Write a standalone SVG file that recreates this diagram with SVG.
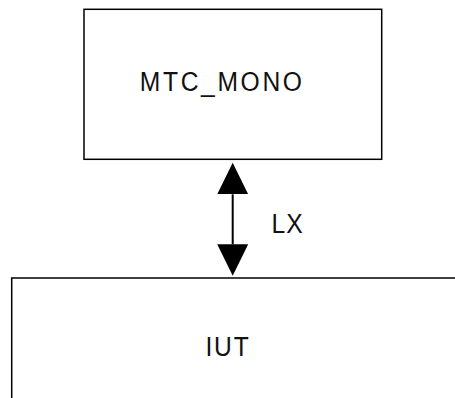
<svg xmlns="http://www.w3.org/2000/svg" width="455" height="398" viewBox="0 0 455 398">
  <style>
    .box { fill: #ffffff; stroke: #000000; stroke-width: 1.5; }
    .lbl { font-family: "Liberation Sans", Arial, sans-serif; font-size: 28px; fill: #111111; }
    .conn { stroke: #000000; stroke-width: 2; fill: none; }
  </style>
  <defs>
    <marker id="arrow" viewBox="0 -16 32 32" markerWidth="32" markerHeight="32" refX="0" refY="0" markerUnits="userSpaceOnUse" orient="auto-start-reverse">
      <path d="M0,-15.5 L31.5,0 L0,15.5 Z" fill="#000000"/>
    </marker>
  </defs>
  <rect width="455" height="398" fill="#ffffff"/>
  <g id="node-mtc">
    <rect class="box" x="84" y="9.3" width="297.7" height="150" stroke="#333333"/>
    <text class="lbl" transform="translate(139.85,91.3) scale(0.88,1)" letter-spacing="3">MTC_MONO</text>
  </g>
  <g id="node-iut">
    <rect class="box" x="11.7" y="278" width="470" height="150"/>
    <text class="lbl" transform="translate(205.4,355.7) scale(0.88,1)" letter-spacing="2.1">IUT</text>
  </g>
  <g id="connectors">
    <line class="conn" x1="232.7" y1="194.3" x2="232.7" y2="244.3" marker-start="url(#arrow)" marker-end="url(#arrow)"/>
    <text class="lbl" transform="translate(271.5,233.3) scale(0.88,1)" letter-spacing="1.1">LX</text>
  </g>
</svg>
